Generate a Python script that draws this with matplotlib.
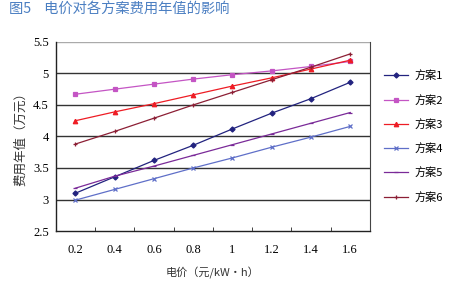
import matplotlib
matplotlib.use("Agg")
import matplotlib.pyplot as plt
from matplotlib.ticker import FixedLocator

plt.rcParams["font.family"] = ["Noto Sans CJK SC", "DejaVu Sans"]

# Electricity price (元/kW·h)
prices = ["0.2", "0.4", "0.6", "0.8", "1", "1.2", "1.4", "1.6"]
ytick_vals = [2.5, 3, 3.5, 4, 4.5, 5, 5.5]
ytick_labels = ["2.5", "3", "3.5", "4", "4.5", "5", "5.5"]

# Annual cost (万元) per scheme
scheme1 = [3.10, 3.36, 3.62, 3.86, 4.12, 4.37, 4.60, 4.86]
scheme2 = [4.67, 4.75, 4.83, 4.91, 4.98, 5.04, 5.11, 5.19]
scheme3 = [4.25, 4.39, 4.52, 4.66, 4.80, 4.93, 5.07, 5.21]
scheme4 = [2.99, 3.16, 3.33, 3.50, 3.66, 3.83, 3.99, 4.16]
scheme5 = [3.18, 3.37, 3.53, 3.70, 3.87, 4.04, 4.21, 4.38]
scheme6 = [3.88, 4.08, 4.29, 4.50, 4.70, 4.90, 5.10, 5.31]
names = ["方案1", "方案2", "方案3", "方案4", "方案5", "方案6"]

STYLE = [
    {"color": "#22237f", "marker": "D", "ms": 2.6},
    {"color": "#c455c4", "marker": "s", "ms": 2.8},
    {"color": "#ee1c24", "marker": "^", "ms": 3.2},
    {"color": "#5f6fc8", "marker": "x", "ms": 2.4},
    {"color": "#7a2a98", "marker": "_", "ms": 3.5},
    {"color": "#8c1f35", "marker": "+", "ms": 3.5},
]

fig = plt.figure(figsize=(4.5, 2.87), dpi=100)
ax = fig.add_axes([0.124, 0.195, 0.698, 0.659])

x = list(range(len(prices)))
for vals, name, s in zip([scheme1, scheme2, scheme3, scheme4, scheme5, scheme6], names, STYLE):
    ax.plot(x, vals, color=s["color"], marker=s["marker"], ms=s["ms"], lw=0.9,
            mew=0.9, label=name)

ax.set_xlim(-0.5, len(prices) - 0.5)
ax.set_ylim(2.5, 5.5)
ax.set_xticks(x)
ax.set_xticklabels(prices, family="Liberation Serif", fontsize=9)
ax.xaxis.set_minor_locator(FixedLocator([i + 0.5 for i in range(len(prices) - 1)]))
ax.tick_params(axis="x", which="major", length=0, pad=9)
ax.tick_params(axis="x", which="minor", direction="in", length=3, color="#222222")
ax.set_yticks(ytick_vals)
ax.set_yticklabels(ytick_labels, family="Liberation Serif", fontsize=9)
ax.tick_params(axis="y", length=0, pad=5)

for v in ytick_vals[1:-1]:
    ax.axhline(v, color="#333333", lw=1.0, zorder=0)
ax.axhline(5.5, color="#aaaaaa", lw=1.0, zorder=0)

for side in ["left", "bottom"]:
    ax.spines[side].set_color("#222222")
    ax.spines[side].set_linewidth(1.0)
ax.spines["right"].set_color("#444444")
ax.spines["top"].set_visible(False)

ax.set_ylabel("费用年值（万元）", fontsize=9, color="#333333", labelpad=4)
ax.set_xlabel("电价（元/kW·h）", fontsize=8, color="#333333", labelpad=8)

fig.legend(loc="upper left", bbox_to_anchor=(0.83, 0.79), frameon=False,
           fontsize=8, handlelength=2.2, labelspacing=1.2, handletextpad=0.6)

fig.text(0.02, 0.955, "图5    电价对各方案费用年值的影响", fontsize=10.3, color="#4b7fc2")

fig.savefig("out.png", dpi=100)
